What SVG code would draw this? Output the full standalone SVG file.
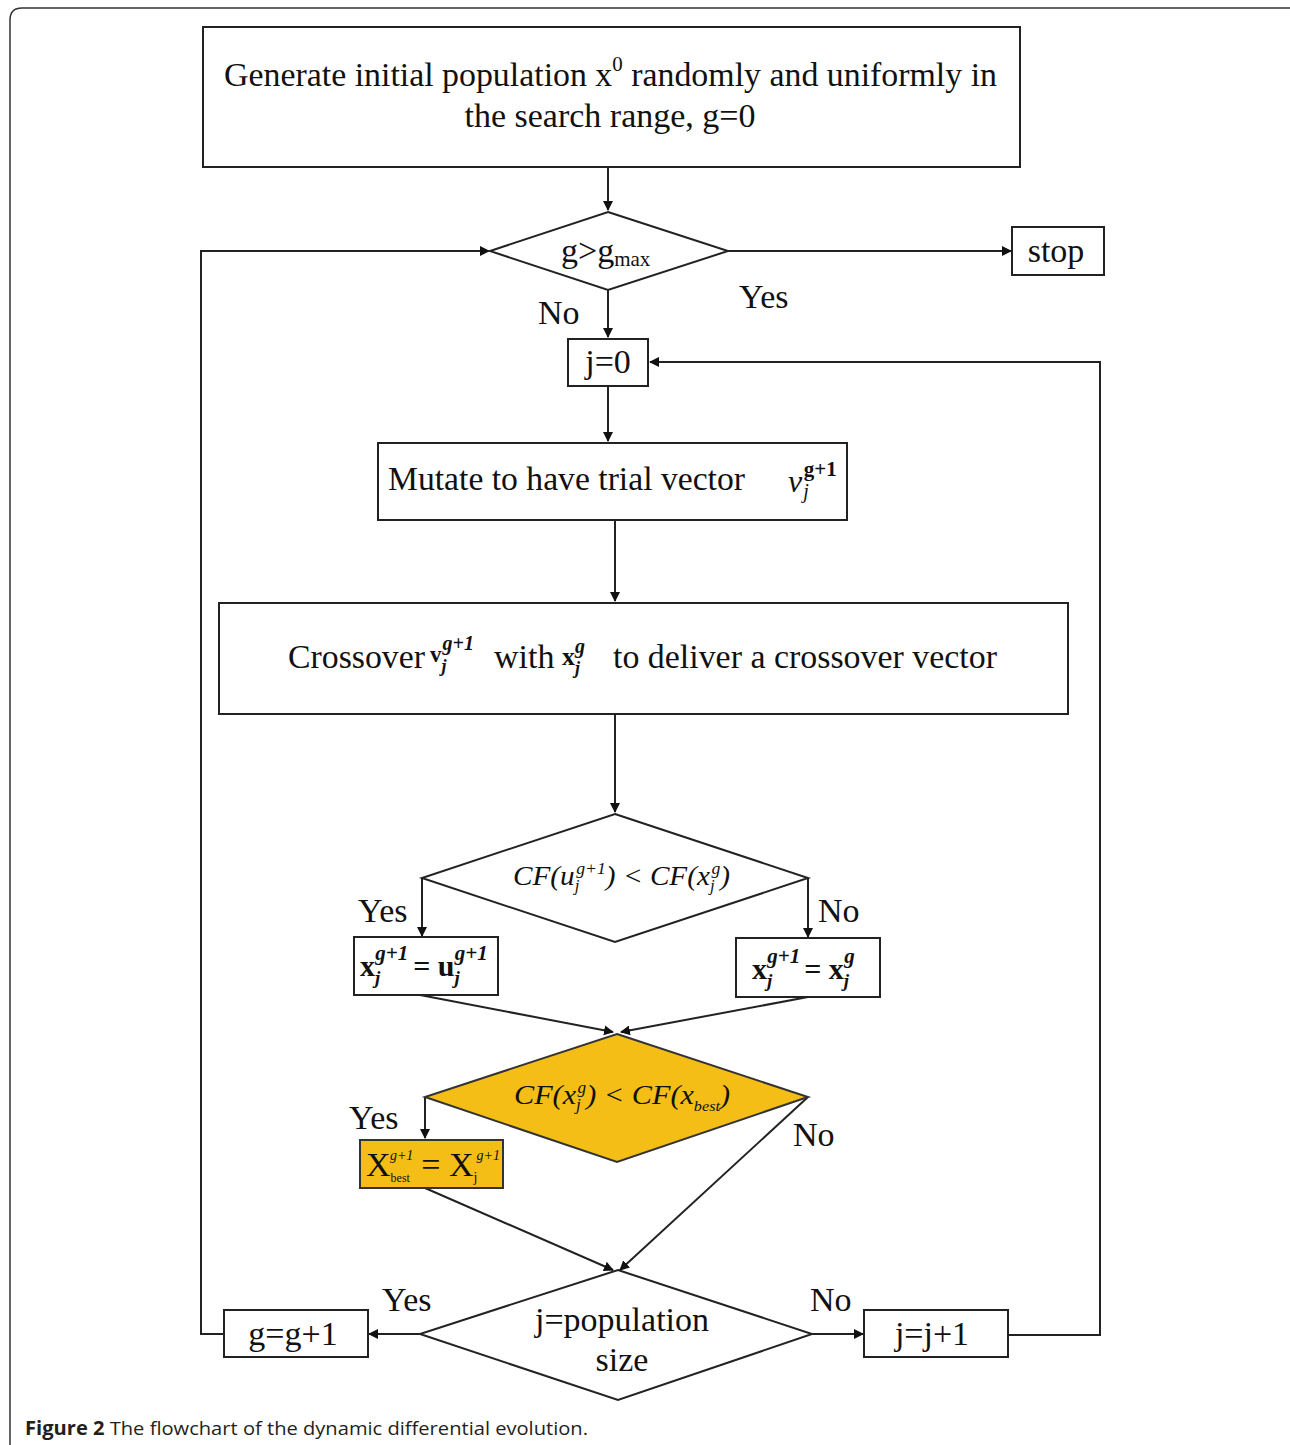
<svg xmlns="http://www.w3.org/2000/svg" width="1290" height="1445" viewBox="0 0 1290 1445">
<defs>
<marker id="ah" markerWidth="10" markerHeight="10" refX="9" refY="5" orient="auto" markerUnits="userSpaceOnUse">
<path d="M0,0 L10,5 L0,10 Z" fill="#111"/>
</marker>
<style>
.box{fill:#fff;stroke:#222;stroke-width:2}
.ybox{fill:#F4BE16;stroke:#333;stroke-width:2}
.ln{fill:none;stroke:#222;stroke-width:2}
.t{font-family:"Liberation Serif","Times New Roman",serif;font-size:34px;fill:#111}
.m{font-family:"Liberation Serif","Times New Roman",serif;font-style:italic;fill:#111}
.b{font-family:"Liberation Serif","Times New Roman",serif;font-weight:bold;fill:#111}
.cap{font-family:"Open Sans","Liberation Sans",sans-serif;font-size:19px;fill:#231f20}
</style>
</defs>
<rect width="1290" height="1445" fill="#fff"/>
<path d="M10,1445 V20 Q10,8 22,8 H1300" fill="none" stroke="#333" stroke-width="1.5"/>

<g id="connectors">
<path class="ln" d="M608,167 V210" marker-end="url(#ah)"/>
<path class="ln" d="M728,251 H1011" marker-end="url(#ah)"/>
<path class="ln" d="M608,290 V337" marker-end="url(#ah)"/>
<path class="ln" d="M608,386 V441" marker-end="url(#ah)"/>
<path class="ln" d="M615,520 V601" marker-end="url(#ah)"/>
<path class="ln" d="M615,714 V812" marker-end="url(#ah)"/>
<path class="ln" d="M422,878 V936" marker-end="url(#ah)"/>
<path class="ln" d="M808,878 V937" marker-end="url(#ah)"/>
<path class="ln" d="M420,995 L613,1032" marker-end="url(#ah)"/>
<path class="ln" d="M808,997 L621,1032" marker-end="url(#ah)"/>
<path class="ln" d="M425,1097 V1138" marker-end="url(#ah)"/>
<path class="ln" d="M425,1188 L613,1270" marker-end="url(#ah)"/>
<path class="ln" d="M808,1097 L620,1270" marker-end="url(#ah)"/>
<path class="ln" d="M420,1334 H369" marker-end="url(#ah)"/>
<path class="ln" d="M812,1334 H863" marker-end="url(#ah)"/>
<path class="ln" d="M224,1334 H201 V251 H489" marker-end="url(#ah)"/>
<path class="ln" d="M1008,1335 H1100 V362 H650" marker-end="url(#ah)"/>
<text class="t" x="739" y="308">Yes</text>
<text class="t" x="538" y="324">No</text>
<text class="t" x="358" y="922">Yes</text>
<text class="t" x="818" y="922">No</text>
<text class="t" x="349" y="1129">Yes</text>
<text class="t" x="793" y="1146">No</text>
<text class="t" x="382" y="1311">Yes</text>
<text class="t" x="810" y="1311">No</text>
</g>

<g id="n-init">
<rect class="box" x="203" y="27" width="817" height="140"/>
<text class="t" x="224" y="86" textLength="773" lengthAdjust="spacingAndGlyphs">Generate initial population x<tspan font-size="21" dy="-15">0</tspan><tspan dy="15"> randomly and uniformly in</tspan></text>
<text class="t" x="610" y="127" text-anchor="middle">the search range, g=0</text>
</g>

<g id="n-gmax">
<polygon class="box" points="608,212 728,251 608,290 490,251"/>
<text class="t" x="561" y="262">g&gt;g<tspan font-size="21" dy="4">max</tspan></text>
</g>

<g id="n-stop">
<rect class="box" x="1012" y="227" width="92" height="48"/>
<text class="t" x="1056" y="262" text-anchor="middle">stop</text>
</g>

<g id="n-j0">
<rect class="box" x="568" y="339" width="80" height="47"/>
<text class="t" x="608" y="373" text-anchor="middle">j=0</text>
</g>

<g id="n-mutate">
<rect class="box" x="378" y="443" width="469" height="77"/>
<text class="t" x="388" y="490" textLength="357" lengthAdjust="spacingAndGlyphs">Mutate to have trial vector</text>
<text class="m" x="788" y="492" font-size="32">v<tspan font-size="20" dx="1" dy="6">j</tspan><tspan class="b" font-style="normal" font-size="21" dx="-5" dy="-22">g+1</tspan></text>
</g>

<g id="n-cross">
<rect class="box" x="219" y="603" width="849" height="111"/>
<text class="t" x="288" y="668" textLength="137" lengthAdjust="spacingAndGlyphs">Crossover</text>
<text class="b" x="430" y="662" font-size="23">v<tspan class="m" font-size="18" dy="10">j</tspan><tspan font-size="20" font-style="italic" dx="-4" dy="-22">g+1</tspan></text>
<text class="t" x="494" y="668">with</text>
<text class="b" x="562" y="665" font-size="26">x<tspan class="m" font-size="18" dy="9">j</tspan><tspan font-size="20" font-style="italic" dx="-5" dy="-21">g</tspan></text>
<text class="t" x="613" y="668" textLength="384" lengthAdjust="spacingAndGlyphs">to deliver a crossover vector</text>
</g>

<g id="n-cf1">
<polygon class="box" points="615,814 808,878 615,942 422,878"/>
<text class="m" x="513" y="885" font-size="28" textLength="217" lengthAdjust="spacingAndGlyphs">CF(u<tspan font-size="16" dy="6">j</tspan><tspan font-size="17" dx="-3" dy="-17">g+1</tspan><tspan dy="11">) &lt; CF(x</tspan><tspan font-size="16" dy="6">j</tspan><tspan font-size="17" dx="-3" dy="-17">g</tspan><tspan dy="11">)</tspan></text>
</g>

<g id="n-yes1">
<rect class="box" x="354" y="937" width="144" height="58"/>
<text class="b" x="360" y="976" font-size="30">x<tspan class="m" font-size="19" dy="8">j</tspan><tspan font-size="21" font-style="italic" dx="-5" dy="-24">g+1</tspan><tspan dx="5" dy="16">= u</tspan><tspan class="m" font-size="19" dy="8">j</tspan><tspan font-size="21" font-style="italic" dx="-5" dy="-24">g+1</tspan></text>
</g>

<g id="n-no1">
<rect class="box" x="736" y="938" width="144" height="59"/>
<text class="b" x="752" y="979" font-size="30">x<tspan class="m" font-size="19" dy="8">j</tspan><tspan font-size="21" font-style="italic" dx="-5" dy="-24">g+1</tspan><tspan dx="4" dy="16">= x</tspan><tspan class="m" font-size="19" dy="8">j</tspan><tspan font-size="21" font-style="italic" dx="-5" dy="-24">g</tspan></text>
</g>

<g id="n-cf2">
<polygon class="ybox" points="617,1034 808,1097 617,1162 425,1097"/>
<text class="m" x="514" y="1104" font-size="28" fill="#2a2a2a" textLength="216" lengthAdjust="spacingAndGlyphs">CF(x<tspan font-size="16" dy="6">j</tspan><tspan font-size="16" dx="-3" dy="-17">g</tspan><tspan dy="11">) &lt; CF(x</tspan><tspan font-size="15" dy="7">best</tspan><tspan dy="-7">)</tspan></text>
</g>

<g id="n-best">
<rect class="ybox" x="360" y="1140" width="143" height="48"/>
<text class="t" x="366" y="1176" font-size="26" fill="#2a2a2a">X<tspan font-size="12" dy="6">best</tspan><tspan font-size="14" font-style="italic" dx="-20" dy="-22">g+1</tspan><tspan dx="8" dy="16">= X</tspan><tspan font-size="14" dy="6">j</tspan><tspan font-size="14" font-style="italic" dx="-1" dy="-22">g+1</tspan></text>
</g>

<g id="n-popsize">
<polygon class="box" points="618,1270 812,1334 618,1400 420,1334"/>
<text class="t" x="622" y="1331" text-anchor="middle">j=population</text>
<text class="t" x="622" y="1371" text-anchor="middle">size</text>
</g>

<g id="n-ginc">
<rect class="box" x="224" y="1310" width="144" height="47"/>
<text class="t" x="293" y="1345" text-anchor="middle">g=g+1</text>
</g>

<g id="n-jinc">
<rect class="box" x="864" y="1310" width="144" height="47"/>
<text class="t" x="932" y="1345" text-anchor="middle">j=j+1</text>
</g>

<text class="cap" x="25" y="1435" textLength="563" lengthAdjust="spacingAndGlyphs"><tspan font-weight="bold">Figure 2</tspan> The flowchart of the dynamic differential evolution.</text>
</svg>
